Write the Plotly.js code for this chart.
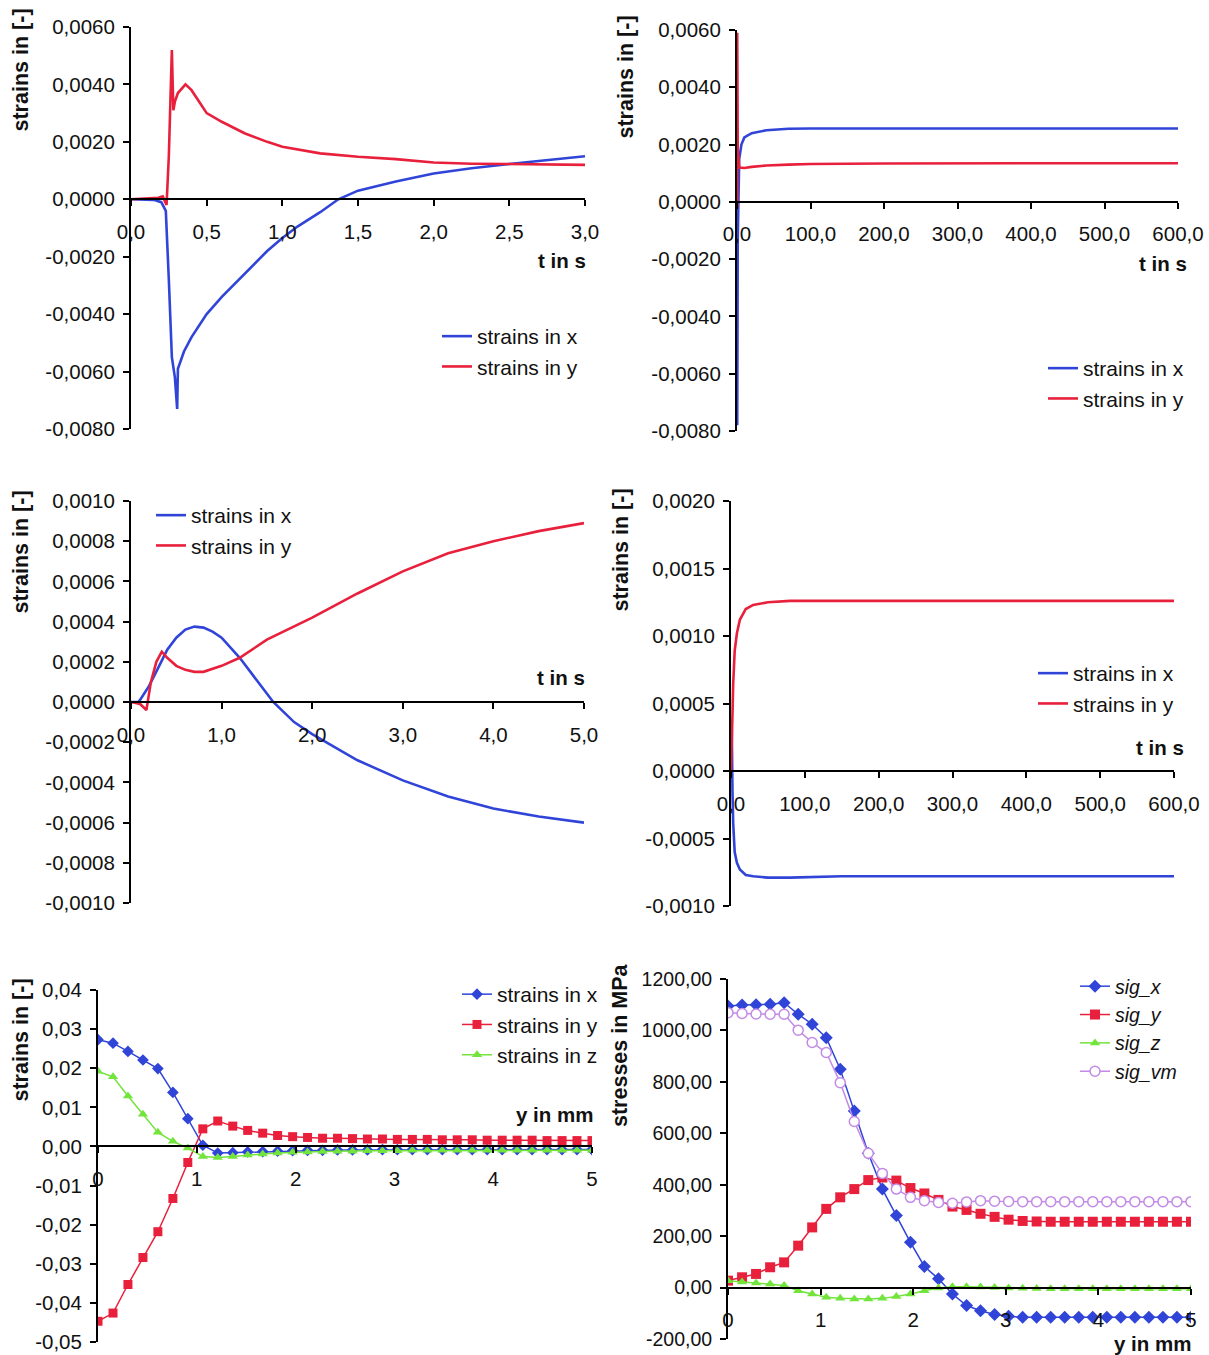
<!DOCTYPE html>
<html><head><meta charset="utf-8">
<script src="https://cdn.plot.ly/plotly-3.0.1.min.js"></script>
<style>html,body{margin:0;padding:0;background:#fff}#chart{width:1209px;height:1355px}</style>
</head><body><div id="chart"></div>
<script>
// ---------- DATA ----------
// Panel 1: strains vs time, 0..3 s
const p1TimeX   = [0, 0.1, 0.15, 0.2, 0.23, 0.25, 0.27, 0.29, 0.305, 0.31, 0.35, 0.4, 0.5, 0.6, 0.75, 0.9, 1.0, 1.1, 1.25, 1.37, 1.5, 1.75, 2.0, 2.25, 2.5, 2.75, 3.0];
const p1StrainX = [0, 0, -0.00002, -0.0001, -0.0004, -0.0028, -0.0055, -0.0062, -0.0073, -0.0059, -0.0053, -0.0048, -0.0040, -0.0034, -0.0026, -0.0018, -0.00135, -0.00095, -0.00045, 0, 0.0003, 0.00062, 0.0009, 0.00108, 0.00123, 0.00136, 0.0015];
const p1TimeY   = [0, 0.1, 0.18, 0.21, 0.235, 0.25, 0.27, 0.28, 0.29, 0.31, 0.36, 0.4, 0.5, 0.6, 0.75, 0.9, 1.0, 1.25, 1.5, 1.75, 2.0, 2.25, 2.5, 2.75, 3.0];
const p1StrainY = [0, 0.00002, 0.00005, 0.0001, -0.0002, 0.0015, 0.0052, 0.0031, 0.0034, 0.0037, 0.0040, 0.0038, 0.0030, 0.0027, 0.0023, 0.0020, 0.00183, 0.0016, 0.00148, 0.0014, 0.00128, 0.00124, 0.00123, 0.00122, 0.0012];

// Panel 2: strains vs time, 0..600 s
const p2Time    = [0, 0.2, 0.25, 0.3, 0.35, 1, 3, 6, 10, 20, 40, 70, 100, 200, 300, 400, 500, 600];
const p2StrainX = [0, -0.0001, -0.003, -0.0078, -0.0055, -0.0013, 0.0015, 0.002, 0.00225, 0.0024, 0.0025, 0.00255, 0.00256, 0.00256, 0.00256, 0.00256, 0.00256, 0.00256];
const p2StrainY = [0, 0.0001, -0.0002, 0.0059, 0.004, 0.0018, 0.0012, 0.00118, 0.00118, 0.00122, 0.00127, 0.0013, 0.00132, 0.00134, 0.00135, 0.00135, 0.00135, 0.00135];

// Panel 3: strains vs time, 0..5 s
const p3TimeX   = [0, 0.08, 0.1, 0.2, 0.3, 0.4, 0.5, 0.6, 0.7, 0.8, 0.9, 1.0, 1.2, 1.4, 1.57, 1.8, 2.0, 2.5, 3.0, 3.5, 4.0, 4.5, 5.0];
const p3StrainX = [0, 0, 0.00001, 0.00008, 0.00017, 0.00026, 0.00032, 0.00036, 0.000375, 0.00037, 0.00035, 0.00032, 0.00022, 0.0001, 0, -0.0001, -0.00016, -0.00029, -0.00039, -0.00047, -0.00053, -0.00057, -0.0006];
const p3TimeY   = [0, 0.1, 0.17, 0.22, 0.28, 0.34, 0.4, 0.5, 0.6, 0.7, 0.8, 1.0, 1.2, 1.5, 2.0, 2.5, 3.0, 3.5, 4.0, 4.5, 5.0];
const p3StrainY = [0, -0.00001, -0.00004, 0.0001, 0.0002, 0.00025, 0.00022, 0.00018, 0.00016, 0.00015, 0.00015, 0.00018, 0.00022, 0.00031, 0.00042, 0.00054, 0.00065, 0.00074, 0.0008, 0.00085, 0.00089];

// Panel 4: strains vs time, 0..600 s
const p4Time    = [0, 0.5, 1, 2, 3, 5, 8, 12, 20, 30, 50, 80, 150, 300, 450, 600];
const p4StrainX = [0, 0.00032, 0.00033, -0.00015, -0.00039, -0.0006, -0.00068, -0.00073, -0.00077, -0.00078, -0.00079, -0.00079, -0.00078, -0.00078, -0.00078, -0.00078];
const p4StrainY = [0, 0.00018, 0.0002, 0.00042, 0.00065, 0.00089, 0.00102, 0.00112, 0.0012, 0.00123, 0.00125, 0.00126, 0.00126, 0.00126, 0.00126, 0.00126];

// Panels 5 and 6: profiles along y in mm
const yMm = [0, 0.152, 0.303, 0.455, 0.606, 0.758, 0.909, 1.061, 1.212, 1.364, 1.515, 1.667, 1.818, 1.970, 2.121, 2.273, 2.424, 2.576, 2.727, 2.879, 3.030, 3.182, 3.333, 3.485, 3.636, 3.788, 3.939, 4.091, 4.242, 4.394, 4.545, 4.697, 4.848, 5.0];
const p5StrainX = [0.0273, 0.0264, 0.0243, 0.0221, 0.0199, 0.0138, 0.0071, 0.0003, -0.0017, -0.0016, -0.0014, -0.0013, -0.0012, -0.0011, -0.0010, -0.0010, -0.0009, -0.0009, -0.0009, -0.0008, -0.0008, -0.0008, -0.0008, -0.0008, -0.0008, -0.0008, -0.0008, -0.0008, -0.0008, -0.0008, -0.0008, -0.0008, -0.0008, -0.0008];
const p5StrainY = [-0.0447, -0.0426, -0.0353, -0.0284, -0.0218, -0.0133, -0.0041, 0.0045, 0.0065, 0.0052, 0.0041, 0.0034, 0.0028, 0.0025, 0.0023, 0.0021, 0.0021, 0.0020, 0.0019, 0.0019, 0.0018, 0.0018, 0.0018, 0.0017, 0.0017, 0.0017, 0.0016, 0.0016, 0.0016, 0.0016, 0.0015, 0.0015, 0.0015, 0.0015];
const p5StrainZ = [0.0192, 0.0178, 0.0129, 0.0082, 0.0036, 0.0013, -0.0004, -0.0026, -0.0028, -0.0026, -0.0022, -0.0019, -0.0017, -0.0015, -0.0014, -0.0013, -0.0012, -0.0012, -0.0011, -0.0011, -0.0011, -0.0010, -0.0010, -0.0010, -0.0010, -0.0010, -0.0010, -0.0010, -0.0010, -0.0010, -0.0010, -0.0010, -0.0010, -0.0010];

const sigX  = [1095, 1099, 1100, 1102, 1108, 1063, 1024, 972, 849, 687, 522, 383, 280, 176, 82, 34, -25, -70, -90, -105, -112, -115, -115, -115, -115, -115, -115, -115, -115, -115, -115, -115, -115, -115];
const sigY  = [27, 40, 53, 79, 98, 163, 234, 306, 351, 383, 418, 428, 416, 387, 366, 341, 315, 302, 287, 275, 264, 259, 257, 256, 256, 256, 256, 256, 256, 256, 256, 256, 256, 256];
const sigZ  = [27, 22, 18, 14, 8, -12, -25, -38, -42, -44, -44, -42, -35, -25, -12, -2, 3, 3, 2, 0, -2, -3, -4, -5, -5, -5, -5, -5, -5, -5, -5, -5, -5, -5];
const sigVM = [1069, 1066, 1064, 1063, 1063, 1001, 953, 914, 797, 646, 522, 444, 383, 351, 338, 331, 328, 333, 338, 336, 335, 334, 334, 334, 334, 334, 334, 334, 334, 334, 334, 334, 334, 334];

// Y tick labels (hyphen minus as in the original)
const yTicksStrainWide  = [-0.008, -0.006, -0.004, -0.002, 0, 0.002, 0.004, 0.006];
const yLabelsStrainWide = ['-0,0080', '-0,0060', '-0,0040', '-0,0020', '0,0000', '0,0020', '0,0040', '0,0060'];
const yTicksP3  = [-0.001, -0.0008, -0.0006, -0.0004, -0.0002, 0, 0.0002, 0.0004, 0.0006, 0.0008, 0.001];
const yLabelsP3 = ['-0,0010', '-0,0008', '-0,0006', '-0,0004', '-0,0002', '0,0000', '0,0002', '0,0004', '0,0006', '0,0008', '0,0010'];
const yTicksP4  = [-0.001, -0.0005, 0, 0.0005, 0.001, 0.0015, 0.002];
const yLabelsP4 = ['-0,0010', '-0,0005', '0,0000', '0,0005', '0,0010', '0,0015', '0,0020'];
const yTicksP5  = [-0.05, -0.04, -0.03, -0.02, -0.01, 0, 0.01, 0.02, 0.03, 0.04];
const yLabelsP5 = ['-0,05', '-0,04', '-0,03', '-0,02', '-0,01', '0,00', '0,01', '0,02', '0,03', '0,04'];
const yTicksP6  = [-200, 0, 200, 400, 600, 800, 1000, 1200];
const yLabelsP6 = ['-200,00', '0,00', '200,00', '400,00', '600,00', '800,00', '1000,00', '1200,00'];

// ---------- STYLE / LAYOUT ----------
const W = 1209, H = 1355;
const FONT = 'Liberation Sans, Arial, sans-serif';
const TICK = 20.5, LEG = 21, TTL = 21.5;
const BLUE = '#3045d8', RED = '#e8203c', GREEN = '#72e43c', PURPLE = '#c38ae6';
const px = v => v / W;
const py = v => 1 - v / H;

const panels = [
  {xl:131, xr:585, yt:27,  yb:429, xr0:[0,3],   yr:[-0.008,0.006], xd:0.5, xf:'.1f', tv:yTicksStrainWide, tt:yLabelsStrainWide, fs:TICK},
  {xl:737, xr:1178,yt:30,  yb:431, xr0:[0,600], yr:[-0.008,0.006], xd:100, xf:'.1f', tv:yTicksStrainWide, tt:yLabelsStrainWide, fs:TICK},
  {xl:131, xr:584, yt:501, yb:903, xr0:[0,5],   yr:[-0.001,0.001], xd:1,   xf:'.1f', tv:yTicksP3, tt:yLabelsP3, fs:TICK},
  {xl:731, xr:1174,yt:501, yb:906, xr0:[0,600], yr:[-0.001,0.002], xd:100, xf:'.1f', tv:yTicksP4, tt:yLabelsP4, fs:TICK},
  {xl:98,  xr:592, yt:990, yb:1342,xr0:[0,5],   yr:[-0.05,0.04],   xd:1,   xf:'d',   tv:yTicksP5, tt:yLabelsP5, fs:TICK},
  {xl:728, xr:1191,yt:979, yb:1339,xr0:[0,5],   yr:[-200,1200],    xd:1,   xf:'d',   tv:yTicksP6, tt:yLabelsP6, fs:19.5}
];

const layout = {
  width: W, height: H,
  margin: {l:0, r:0, t:0, b:0, pad:0},
  paper_bgcolor: '#ffffff', plot_bgcolor: 'rgba(0,0,0,0)',
  separators: ', ',
  font: {family: FONT, size: TICK, color: '#111'},
  showlegend: true,
  annotations: []
};

panels.forEach((p, i) => {
  const n = i === 0 ? '' : String(i + 1);
  const yDom = [py(p.yb), py(p.yt)];
  const zeroPos = yDom[0] + (0 - p.yr[0]) / (p.yr[1] - p.yr[0]) * (yDom[1] - yDom[0]);
  layout['xaxis' + n] = {
    domain: [px(p.xl), px(p.xr)], range: p.xr0, anchor: 'free', position: zeroPos,
    showgrid: false, zeroline: false, showline: true, linecolor: '#000', linewidth: 2,
    ticks: 'outside', ticklen: 6, tickwidth: 2, tickcolor: '#000',
    dtick: p.xd, tick0: 0, tickformat: p.xf, ticklabelstandoff: 8,
    tickfont: {family: FONT, size: TICK, color: '#111'}, fixedrange: true
  };
  layout['yaxis' + n] = {
    domain: yDom, range: p.yr, anchor: 'x' + n,
    showgrid: false, zeroline: false, showline: true, linecolor: '#000', linewidth: 2,
    ticks: 'outside', ticklen: 6, tickwidth: 2, tickcolor: '#000',
    tickmode: 'array', tickvals: p.tv, ticktext: p.tt, ticklabelstandoff: 4,
    tickfont: {family: FONT, size: p.fs, color: '#111'}, fixedrange: true
  };
});

// axis titles as annotations
const yTitles = [
  {t:'strains in [-]', x:20,  y:7},
  {t:'strains in [-]', x:626, y:14},
  {t:'strains in [-]', x:20,  y:489},
  {t:'strains in [-]', x:620, y:487},
  {t:'strains in [-]', x:20,  y:977},
  {t:'stresses in MPa', x:620, y:961}
];
yTitles.forEach(a => layout.annotations.push({
  text: a.t, textangle: -90, xref:'paper', yref:'paper', x: px(a.x), y: py(a.y),
  xanchor:'center', yanchor:'top', showarrow:false,
  font:{family: FONT, size: TTL, color:'#111', weight: 'bold'}
}));
const xTitles = [
  {t:'t in s',  x:588,  y:260},
  {t:'t in s',  x:1189, y:263},
  {t:'t in s',  x:587,  y:677},
  {t:'t in s',  x:1186, y:747},
  {t:'y in mm', x:595,  y:1114},
  {t:'y in mm', x:1193, y:1343}
];
xTitles.forEach(a => layout.annotations.push({
  text: a.t, xref:'paper', yref:'paper', x: px(a.x), y: py(a.y),
  xanchor:'right', yanchor:'middle', showarrow:false,
  font:{family: FONT, size: TTL - 1, color:'#111', weight: 'bold'}
}));

// legends
const legendPos = [
  {x:437, y:316, fs:LEG},
  {x:1043, y:348, fs:LEG},
  {x:151, y:495, fs:LEG},
  {x:1033, y:653, fs:LEG},
  {x:457, y:974, fs:LEG},
  {x:1075, y:967, fs:19.5}
];
legendPos.forEach((l, i) => {
  const n = i === 0 ? '' : String(i + 1);
  layout['legend' + n] = {
    x: px(l.x), y: py(l.y), xanchor:'left', yanchor:'top',
    bgcolor:'rgba(0,0,0,0)', borderwidth:0, tracegroupgap:0, itemclick:false, itemdoubleclick:false,
    font:{family: FONT, size: l.fs, color:'#111'}
  };
});

function lineTrace(x, y, name, color, idx) {
  const n = idx === 0 ? '' : String(idx + 1);
  return {x, y, name, type:'scatter', mode:'lines', xaxis:'x' + n, yaxis:'y' + n,
    legend: 'legend' + n, line:{color, width:2.6}, hoverinfo:'skip'};
}
function markTrace(x, y, name, color, symbol, size, idx, italic, open) {
  const n = idx === 0 ? '' : String(idx + 1);
  return {x, y, name: italic ? '<i>' + name + '</i>' : name, type:'scatter', mode:'lines+markers',
    xaxis:'x' + n, yaxis:'y' + n, legend:'legend' + n,
    line:{color, width:1.5},
    marker: open ? {symbol:'circle', size, color:'#ffffff', line:{color, width:1.5}}
                 : {symbol, size, color, line:{width:0}},
    hoverinfo:'skip'};
}

const data = [
  lineTrace(p1TimeX, p1StrainX, 'strains in x', BLUE, 0),
  lineTrace(p1TimeY, p1StrainY, 'strains in y', RED, 0),
  lineTrace(p2Time, p2StrainX, 'strains in x', BLUE, 1),
  lineTrace(p2Time, p2StrainY, 'strains in y', RED, 1),
  lineTrace(p3TimeX, p3StrainX, 'strains in x', BLUE, 2),
  lineTrace(p3TimeY, p3StrainY, 'strains in y', RED, 2),
  lineTrace(p4Time, p4StrainX, 'strains in x', BLUE, 3),
  lineTrace(p4Time, p4StrainY, 'strains in y', RED, 3),
  markTrace(yMm, p5StrainX, 'strains in x', BLUE, 'diamond', 9, 4),
  markTrace(yMm, p5StrainY, 'strains in y', RED, 'square', 9, 4),
  markTrace(yMm, p5StrainZ, 'strains in z', GREEN, 'triangle-up', 9, 4),
  markTrace(yMm, sigX, 'sig_x', BLUE, 'diamond', 10, 5, true),
  markTrace(yMm, sigY, 'sig_y', RED, 'square', 10, 5, true),
  markTrace(yMm, sigZ, 'sig_z', GREEN, 'triangle-up', 9, 5, true),
  markTrace(yMm, sigVM, 'sig_vm', PURPLE, 'circle', 10, 5, true, true)
];

Plotly.newPlot('chart', data, layout, {displayModeBar:false, staticPlot:true});
</script></body></html>
